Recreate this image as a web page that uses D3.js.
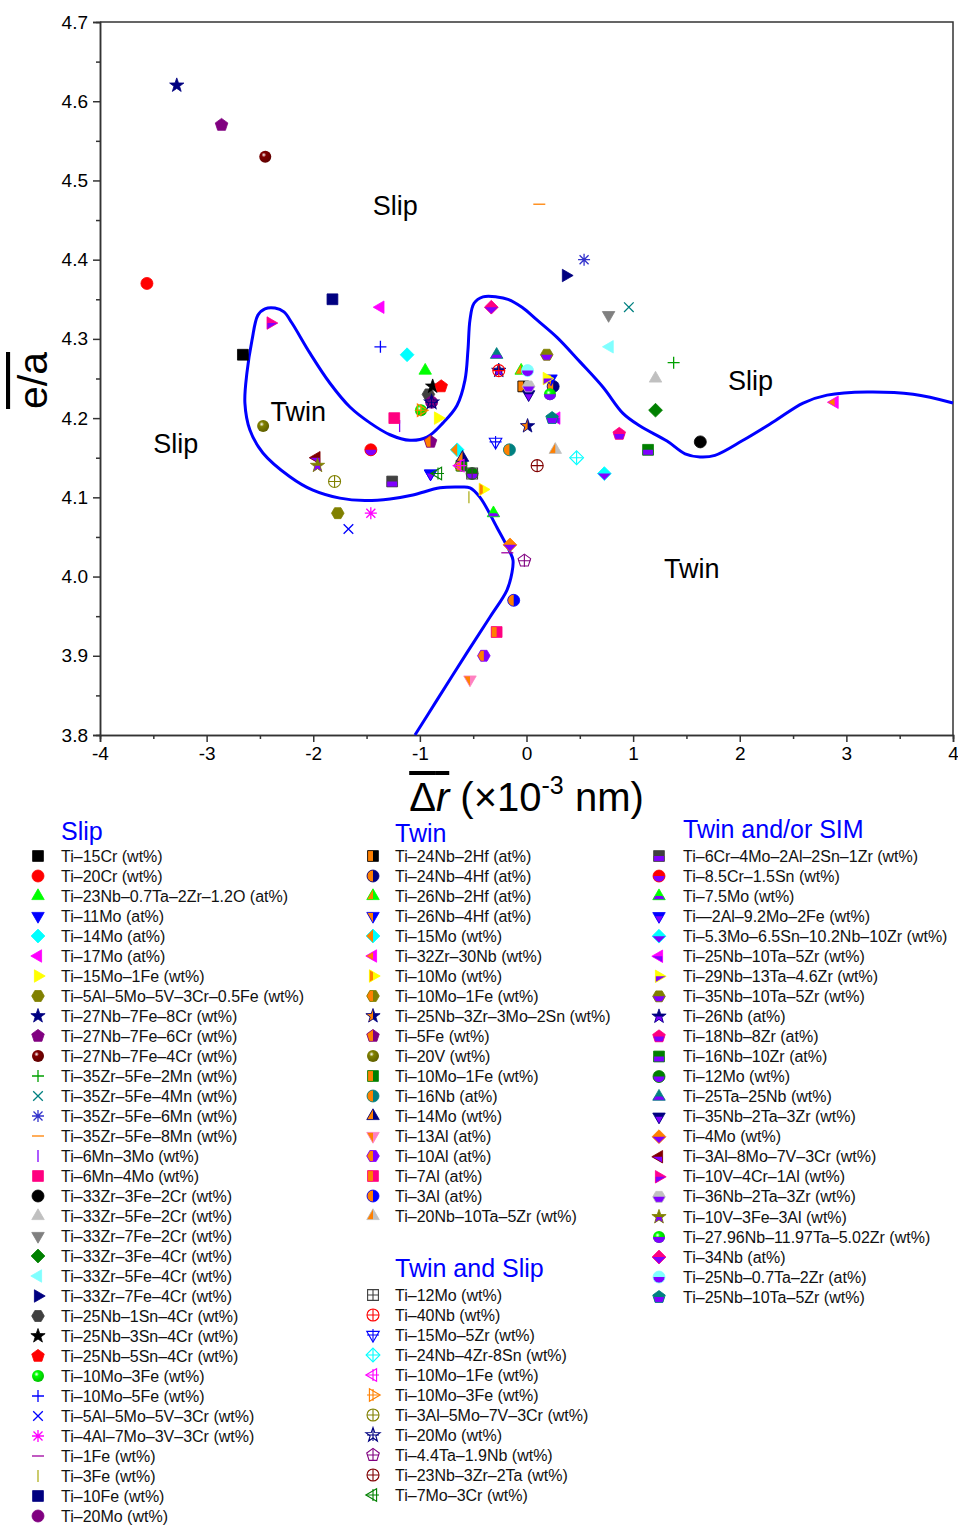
<!DOCTYPE html>
<html>
<head>
<meta charset="utf-8">
<script src="https://cdn.jsdelivr.net/npm/d3@7"></script>
<style>
body { margin: 0; background: #fff; }
text { font-family: "Liberation Sans", Arial, sans-serif; }
</style>
</head>
<body>
<svg id="chart" width="958" height="1525"></svg>
<script>
// ---- data ----
const xTicks = [-4, -3, -2, -1, 0, 1, 2, 3, 4];
const xMinor = [-3.5, -2.5, -1.5, -0.5, 0.5, 1.5, 2.5, 3.5];
const yTicks = [3.8, 3.9, 4.0, 4.1, 4.2, 4.3, 4.4, 4.5, 4.6, 4.7];
const yMinor = [3.85, 3.95, 4.05, 4.15, 4.25, 4.35, 4.45, 4.55, 4.65];

const slipNames = ["Ti–15Cr (wt%)", "Ti–20Cr (wt%)", "Ti–23Nb–0.7Ta–2Zr–1.2O (at%)", "Ti–11Mo (at%)",
	"Ti–14Mo (at%)", "Ti–17Mo (at%)", "Ti–15Mo–1Fe (wt%)", "Ti–5Al–5Mo–5V–3Cr–0.5Fe (wt%)",
	"Ti–27Nb–7Fe–8Cr (wt%)", "Ti–27Nb–7Fe–6Cr (wt%)", "Ti–27Nb–7Fe–4Cr (wt%)", "Ti–35Zr–5Fe–2Mn (wt%)",
	"Ti–35Zr–5Fe–4Mn (wt%)", "Ti–35Zr–5Fe–6Mn (wt%)", "Ti–35Zr–5Fe–8Mn (wt%)", "Ti–6Mn–3Mo (wt%)",
	"Ti–6Mn–4Mo (wt%)", "Ti–33Zr–3Fe–2Cr (wt%)", "Ti–33Zr–5Fe–2Cr (wt%)", "Ti–33Zr–7Fe–2Cr (wt%)",
	"Ti–33Zr–3Fe–4Cr (wt%)", "Ti–33Zr–5Fe–4Cr (wt%)", "Ti–33Zr–7Fe–4Cr (wt%)", "Ti–25Nb–1Sn–4Cr (wt%)",
	"Ti–25Nb–3Sn–4Cr (wt%)", "Ti–25Nb–5Sn–4Cr (wt%)", "Ti–10Mo–3Fe (wt%)", "Ti–10Mo–5Fe (wt%)",
	"Ti–5Al–5Mo–5V–3Cr (wt%)", "Ti–4Al–7Mo–3V–3Cr (wt%)", "Ti–1Fe (wt%)", "Ti–3Fe (wt%)",
	"Ti–10Fe (wt%)", "Ti–20Mo (wt%)"];
const slipDr = [-2.66, -3.56, -0.95, -0.90, -1.12, -1.37, -0.83, -1.77, -3.28, -2.86, -2.45, 1.38,
	0.96, 0.54, 0.12, -1.19, -1.24, 1.63, 1.21, 0.77, 1.21, 0.78, 0.37, -0.92, -0.88, -0.80, -0.99,
	-1.37, -1.67, -1.46, -0.18, -0.54, -1.82, -0.89];
const slipEa = [4.28, 4.37, 4.26, 4.13, 4.28, 4.34, 4.20, 4.08, 4.62, 4.57, 4.53, 4.27,
	4.34, 4.40, 4.47, 4.19, 4.20, 4.17, 4.25, 4.33, 4.21, 4.29, 4.38, 4.23, 4.24, 4.24, 4.21,
	4.29, 4.06, 4.08, 4.03, 4.10, 4.35, 4.22];

const twinNames = ["Ti–24Nb–2Hf (at%)", "Ti–24Nb–4Hf (at%)", "Ti–26Nb–2Hf (at%)", "Ti–26Nb–4Hf (at%)",
	"Ti–15Mo (wt%)", "Ti–32Zr–30Nb (wt%)", "Ti–10Mo (wt%)", "Ti–10Mo–1Fe (wt%)",
	"Ti–25Nb–3Zr–3Mo–2Sn (wt%)", "Ti–5Fe (wt%)", "Ti–20V (wt%)", "Ti–10Mo–1Fe (wt%)",
	"Ti–16Nb (at%)", "Ti–14Mo (wt%)", "Ti–13Al (at%)", "Ti–10Al (at%)", "Ti–7Al (at%)",
	"Ti–3Al (at%)", "Ti–20Nb–10Ta–5Zr (wt%)"];
const twinDr = [-0.03, 0.25, -0.05, 0.23, -0.65, 2.89, -0.41, -0.62, 0.01, -0.90, -2.47, -0.61,
	-0.16, -0.60, -0.53, -0.40, -0.28, -0.12, 0.27];
const twinEa = [4.24, 4.24, 4.26, 4.25, 4.16, 4.22, 4.11, 4.14, 4.19, 4.17, 4.19, 4.14,
	4.16, 4.15, 3.87, 3.90, 3.93, 3.97, 4.16];

const tsNames = ["Ti–12Mo (wt%)", "Ti–40Nb (wt%)", "Ti–15Mo–5Zr (wt%)", "Ti–24Nb–4Zr-8Sn (wt%)",
	"Ti–10Mo–1Fe (wt%)", "Ti–10Mo–3Fe (wt%)", "Ti–3Al–5Mo–7V–3Cr (wt%)", "Ti–20Mo (wt%)",
	"Ti–4.4Ta–1.9Nb (wt%)", "Ti–23Nb–3Zr–2Ta (wt%)", "Ti–7Mo–3Cr (wt%)"];
const tsDr = [-0.51, -0.26, -0.29, 0.47, -0.62, -0.99, -1.80, -0.89, -0.02, 0.10, -0.83];
const tsEa = [4.13, 4.26, 4.17, 4.15, 4.14, 4.21, 4.12, 4.22, 4.02, 4.14, 4.13];

const simNames = ["Ti–6Cr–4Mo–2Al–2Sn–1Zr (wt%)", "Ti–8.5Cr–1.5Sn (wt%)", "Ti–7.5Mo (wt%)",
	"Ti—2Al–9.2Mo–2Fe (wt%)", "Ti–5.3Mo–6.5Sn–10.2Nb–10Zr (wt%)", "Ti–25Nb–10Ta–5Zr (wt%)",
	"Ti–29Nb–13Ta–4.6Zr (wt%)", "Ti–35Nb–10Ta–5Zr (wt%)", "Ti–26Nb (at%)", "Ti–18Nb–8Zr (at%)",
	"Ti–16Nb–10Zr (at%)", "Ti–12Mo (wt%)", "Ti–25Ta–25Nb (wt%)", "Ti–35Nb–2Ta–3Zr (wt%)",
	"Ti–4Mo (wt%)", "Ti–3Al–8Mo–7V–3Cr (wt%)", "Ti–10V–4Cr–1Al (wt%)", "Ti–36Nb–2Ta–3Zr (wt%)",
	"Ti–10V–3Fe–3Al (wt%)", "Ti–27.96Nb–11.97Ta–5.02Zr (wt%)", "Ti–34Nb (at%)",
	"Ti–25Nb–0.7Ta–2Zr (at%)", "Ti–25Nb–10Ta–5Zr (wt%)"];
const simDr = [-1.26, -1.46, -0.31, -0.90, 0.73, 0.28, 0.19, 0.19, -0.26, 0.87, 1.14, -0.51, -0.28,
	0.02, -0.155, -1.97, -2.40, 0.02, -1.96, 0.22, -0.33, 0.01, 0.24];
const simEa = [4.12, 4.16, 4.08, 4.13, 4.13, 4.20, 4.25, 4.28, 4.26, 4.18, 4.16, 4.13, 4.28,
	4.23, 4.04, 4.15, 4.32, 4.24, 4.14, 4.23, 4.34, 4.26, 4.20];

// hand-traced twin/slip boundary
const boundaryDr = [-1.046, -0.840, -0.558, -0.342, -0.183, -0.136, -0.127, -0.155, -0.277, -0.436,
	-0.530, -0.624, -0.811, -1.065, -1.280, -1.515, -1.750, -2.003, -2.219, -2.472, -2.594, -2.641,
	-2.622, -2.575, -2.519, -2.453, -2.359, -2.275, -2.200, -2.031, -1.843, -1.656, -1.468, -1.280,
	-1.093, -0.933, -0.783, -0.652, -0.577, -0.549, -0.530, -0.492, -0.408, -0.277, -0.174, -0.042,
	0.098, 0.286, 0.502, 0.718, 0.905, 1.065, 1.318, 1.487, 1.627, 1.768, 2.031, 2.313, 2.594,
	2.819, 3.194, 3.626, 4.0];
const boundaryEa = [3.800, 3.844, 3.904, 3.949, 3.983, 4.005, 4.021, 4.031, 4.062, 4.100,
	4.112, 4.113, 4.112, 4.103, 4.098, 4.096, 4.099, 4.109, 4.126, 4.156, 4.185, 4.219,
	4.257, 4.298, 4.330, 4.338, 4.339, 4.334, 4.320, 4.282, 4.244, 4.214, 4.194, 4.179,
	4.172, 4.176, 4.194, 4.216, 4.248, 4.286, 4.324, 4.345, 4.353, 4.353, 4.350, 4.340,
	4.324, 4.302, 4.271, 4.239, 4.206, 4.190, 4.171, 4.155, 4.151, 4.153, 4.172, 4.195, 4.219,
	4.229, 4.233, 4.230, 4.219];

const regionText = ["Slip", "Slip", "Slip", "Twin", "Twin"];
const regionDr = [-1.23, 2.10, -3.29, -2.14, 1.55];
const regionEa = [4.469, 4.248, 4.168, 4.208, 4.010];

// ---- marker styles ----
const ORANGE = "#ff8000", VIOLET = "#8000ff";
const slipStyle = [["square", "#000000"], ["circle", "#ff0000"], ["up", "#00ff00"], ["down", "#0000ff"],
	["diamond", "#00ffff"], ["left", "#ff00ff"], ["right", "#ffff00"], ["hexagon", "#808000"],
	["star", "#000080"], ["pentagon", "#800080"], ["sphere", "#800000"], ["plus", "#00a000"],
	["cross", "#008080"], ["asterisk", "#3333cc"], ["hline", "#ff8000"], ["vline", "#8000ff"],
	["square", "#ff0080"], ["circle", "#000000"], ["up", "#c0c0c0"], ["down", "#808080"],
	["diamond", "#008000"], ["left", "#80ffff"], ["right", "#000080"], ["hexagon", "#404040"],
	["star", "#000000"], ["pentagon", "#ff0000"], ["sphere", "#00ff00"], ["plus", "#0000ff"],
	["cross", "#0000ff"], ["asterisk", "#ff00ff"], ["hline", "#a000a0"], ["vline", "#b0b020"],
	["square", "#000080"], ["circle", "#800080"]];
const twinStyle = [["square", "#000000"], ["circle", "#000080"], ["up", "#00ff00"], ["down", "#0000ff"],
	["diamond", "#00ffff"], ["left", "#ff00ff"], ["right", "#ffff00"], ["hexagon", "#808000"],
	["star", "#000080"], ["pentagon", "#800080"], ["sphere", "#808000"], ["square", "#008000"],
	["circle", "#008080"], ["up", "#000080"], ["down", "#ff80c0"], ["hexagon", "#8000ff"],
	["square", "#ff0080"], ["circle", "#0000ff"], ["up", "#c0c0c0"]];
const tsStyle = [["square", "#404040"], ["circle", "#ff0000"], ["down", "#0000ff"], ["diamond", "#00ffff"],
	["left", "#ff00ff"], ["right", "#ff8000"], ["circle", "#808000"], ["star", "#000080"],
	["pentagon", "#800080"], ["circle", "#800000"], ["left", "#008000"]];
const simStyle = [["square", "#404040"], ["circle", "#ff0000"], ["up", "#00ff00"], ["down", "#0000ff"],
	["diamond", "#00ffff"], ["left", "#ff00ff"], ["right", "#ffff00"], ["hexagon", "#808000"],
	["star", "#000080"], ["pentagon", "#ff0080"], ["square", "#008000"], ["circle", "#008000"],
	["up", "#008080"], ["down", "#000080"], ["diamond", "#ff8000"], ["left", "#800000"],
	["right", "#ff0090"], ["hexagon", "#c0c0c0"], ["star", "#808000"], ["sphere", "#00ff00"],
	["diamond", "#ff0080"], ["circle", "#80ffff"], ["pentagon", "#008080"]];

// ---- layout ----
const margin = {top: 22, right: 5, bottom: 790, left: 100};
const width = 958, height = 1525;
const plotH = 735 - margin.top;

const svg = d3.select("#chart");
const defs = svg.append("defs");
defs.append("clipPath").attr("id", "clipLeft")
	.append("rect").attr("x", -20).attr("y", -20).attr("width", 20).attr("height", 40);
defs.append("clipPath").attr("id", "clipBottom")
	.append("rect").attr("x", -20).attr("y", 0).attr("width", 40).attr("height", 20);

const x = d3.scaleLinear().domain([-4, 4]).range([margin.left, width - margin.right]);
const y = d3.scaleLinear().domain([3.8, 4.7]).range([margin.top + plotH, margin.top]);

function poly(n, R, startDeg) {
	let pts = [];
	for (let i = 0; i < n; i++) {
		let a = (startDeg + i * 360 / n) * Math.PI / 180;
		pts.push([R * Math.cos(a), R * Math.sin(a)]);
	}
	return "M" + pts.map(p => p[0].toFixed(2) + "," + p[1].toFixed(2)).join("L") + "Z";
}

function starPath(ro, ri) {
	let pts = [];
	for (let i = 0; i < 10; i++) {
		let a = (-90 + i * 36) * Math.PI / 180, r = i % 2 ? ri : ro;
		pts.push([r * Math.cos(a), r * Math.sin(a)]);
	}
	return "M" + pts.map(p => p[0].toFixed(2) + "," + p[1].toFixed(2)).join("L") + "Z";
}

function shapePath(shape, r) {
	switch (shape) {
		case "square": { let s = r * 0.9; return `M${-s},${-s}H${s}V${s}H${-s}Z`; }
		case "circle":
		case "sphere": return `M${r},0A${r},${r} 0 1,1 ${-r},0A${r},${r} 0 1,1 ${r},0Z`;
		case "up": return poly(3, r * 1.2, -90);
		case "down": return poly(3, r * 1.2, 90);
		case "left": return poly(3, r * 1.2, 180);
		case "right": return poly(3, r * 1.2, 0);
		case "diamond": return poly(4, r * 1.15, -90);
		case "hexagon": return poly(6, r * 1.05, 0);
		case "pentagon": return poly(5, r * 1.1, -90);
		case "star": return starPath(r * 1.25, r * 0.5);
		case "plus": return `M${-r},0H${r}M0,${-r}V${r}`;
		case "cross": { let s = r * 0.8; return `M${-s},${-s}L${s},${s}M${-s},${s}L${s},${-s}`; }
		case "asterisk": { let s = r * 0.75; return `M${-r},0H${r}M0,${-r}V${r}M${-s},${-s}L${s},${s}M${-s},${s}L${s},${-s}`; }
		case "hline": return `M${-r},0H${r}`;
		case "vline": return `M0,${-r}V${r}`;
	}
}

const lineShapes = ["plus", "cross", "asterisk", "hline", "vline"];

function gradient(color) {
	let id = "sph" + color.slice(1);
	if (defs.select("#" + id).empty()) {
		let g = defs.append("radialGradient").attr("id", id)
			.attr("cx", "38%").attr("cy", "35%").attr("r", "65%");
		g.append("stop").attr("offset", "0%").attr("stop-color", "#ffffff");
		g.append("stop").attr("offset", "30%").attr("stop-color", color);
		g.append("stop").attr("offset", "100%").attr("stop-color", d3.color(color).darker(0.8));
	}
	return `url(#${id})`;
}

function drawMarker(g, shape, color, mode, r) {
	let d = shapePath(shape, r);
	if (lineShapes.includes(shape)) {
		g.append("path").attr("d", d).attr("fill", "none")
			.attr("stroke", color).attr("stroke-width", 1.3);
		return;
	}
	if (mode === "open") {
		g.append("path").attr("d", d).attr("fill", "none")
			.attr("stroke", color).attr("stroke-width", 1.1);
		g.append("path").attr("d", `M${-r},0H${r}M0,${-r}V${r}`).attr("fill", "none")
			.attr("stroke", color).attr("stroke-width", 1.1);
		return;
	}
	g.append("path").attr("d", d)
		.attr("fill", shape === "sphere" ? gradient(color) : color);
	if (mode === "twin" && shape !== "sphere") {
		g.append("path").attr("d", d).attr("fill", ORANGE).attr("clip-path", "url(#clipLeft)");
	}
	if (mode === "sim") {
		g.append("path").attr("d", d).attr("fill", VIOLET).attr("clip-path", "url(#clipBottom)");
	}
	if (shape !== "sphere") {
		g.append("path").attr("d", d).attr("fill", "none")
			.attr("stroke", color).attr("stroke-width", 0.8);
	}
}

// ---- axes ----
const axisColor = "#333";
function styleAxis(g) {
	g.selectAll("path, line").attr("stroke", axisColor).attr("stroke-width", 1.5);
	g.selectAll("text").attr("font-size", 19).attr("fill", "#000")
		.attr("font-family", "'Liberation Sans', Arial, sans-serif");
}

svg.append("g")
	.attr("transform", `translate(0, ${y(3.8)})`)
	.call(d3.axisBottom(x).tickValues(xMinor).tickSize(4).tickFormat(""))
	.call(styleAxis);
svg.append("g")
	.attr("transform", `translate(0, ${y(3.8)})`)
	.call(d3.axisBottom(x).tickValues(xTicks).tickSize(7).tickPadding(5).tickFormat(d => String(d)))
	.call(styleAxis);
svg.append("g")
	.attr("transform", `translate(${x(-4)}, 0)`)
	.call(d3.axisLeft(y).tickValues(yMinor).tickSize(4).tickFormat(""))
	.call(styleAxis);
svg.append("g")
	.attr("transform", `translate(${x(-4)}, 0)`)
	.call(d3.axisLeft(y).tickValues(yTicks).tickSize(7).tickPadding(5).tickFormat(d3.format(".1f")))
	.call(styleAxis);

// frame top and right
svg.append("path")
	.attr("d", `M${x(-4)},${y(4.7)}H${x(4)}V${y(3.8)}`)
	.attr("fill", "none").attr("stroke", axisColor).attr("stroke-width", 1.5);

// axis titles
svg.append("text")
	.attr("transform", `translate(47, ${(y(4.7) + y(3.8)) / 2 + 2}) rotate(-90)`)
	.attr("text-anchor", "middle").attr("font-size", 41)
	.append("tspan").style("text-decoration", "overline").text("e/a");

const xt = svg.append("text")
	.attr("x", (x(-4) + x(4)) / 2).attr("y", 811)
	.attr("text-anchor", "middle").attr("font-size", 40);
xt.append("tspan").style("text-decoration", "overline").text("Δ")
	.append("tspan").attr("font-style", "italic").text("r");
xt.append("tspan").text(" (×10");
xt.append("tspan").attr("font-size", 25).attr("dy", -17).text("-3");
xt.append("tspan").attr("dy", 17).text(" nm)");

// ---- plot ----
const plot = svg.append("g");

plot.selectAll(".region")
	.data(regionText)
	.join("text")
	.attr("class", "region")
	.attr("x", (d, i) => x(regionDr[i]))
	.attr("y", (d, i) => y(regionEa[i]))
	.attr("dy", "0.36em")
	.attr("text-anchor", "middle")
	.attr("font-size", 27)
	.text(d => d);

const boundary = d3.line()
	.x(d => x(d[0]))
	.y(d => y(d[1]))
	.curve(d3.curveCatmullRom.alpha(0.5));

plot.append("path")
	.datum(boundaryDr.map((d, i) => [d, boundaryEa[i]]))
	.attr("d", boundary)
	.attr("fill", "none")
	.attr("stroke", "#0000ff")
	.attr("stroke-width", 3);

const groups = [
	{names: slipNames, dr: slipDr, ea: slipEa, style: slipStyle, mode: "solid"},
	{names: twinNames, dr: twinDr, ea: twinEa, style: twinStyle, mode: "twin"},
	{names: simNames, dr: simDr, ea: simEa, style: simStyle, mode: "sim"},
	{names: tsNames, dr: tsDr, ea: tsEa, style: tsStyle, mode: "open"},
];

groups.forEach(grp => {
	grp.names.forEach((name, i) => {
		let g = plot.append("g")
			.attr("transform", `translate(${x(grp.dr[i])}, ${y(grp.ea[i])})`);
		drawMarker(g, grp.style[i][0], grp.style[i][1], grp.mode, 6);
	});
});

// ---- legend ----
const legendBlocks = [
	{title: "Slip", tx: 61, ty: 840, mx: 38, y0: 856, step: 20.0, grp: groups[0]},
	{title: "Twin", tx: 395, ty: 842, mx: 373, y0: 856, step: 20.0, grp: groups[1]},
	{title: "Twin and Slip", tx: 395, ty: 1277, mx: 373, y0: 1295, step: 20.0, grp: groups[3]},
	{title: "Twin and/or SIM", tx: 683, ty: 838, mx: 659, y0: 856, step: 20.05, grp: groups[2]},
];

const legend = svg.append("g");
legendBlocks.forEach(b => {
	legend.append("text")
		.attr("x", b.tx).attr("y", b.ty)
		.attr("font-size", 25).attr("fill", "#0000ff")
		.text(b.title);
	b.grp.names.forEach((name, i) => {
		let cy = b.y0 + i * b.step;
		let g = legend.append("g").attr("transform", `translate(${b.mx}, ${cy})`);
		drawMarker(g, b.grp.style[i][0], b.grp.style[i][1], b.grp.mode, 6);
		legend.append("text")
			.attr("x", b.tx).attr("y", cy).attr("dy", "0.35em")
			.attr("font-size", 16).attr("fill", "#111")
			.text(name);
	});
});
</script>
</body>
</html>
